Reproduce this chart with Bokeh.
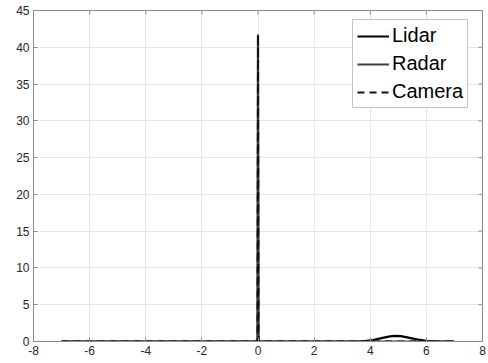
from bokeh.plotting import figure
from bokeh.models import Range1d, FixedTicker, Legend, LegendItem
from bokeh.embed import file_html
from bokeh.resources import INLINE

# Data
lidar_x = [-7.0, -0.015, 0.0, 0.015, 3.5, 3.8, 4.1, 4.4, 4.7, 4.9, 5.1, 5.4, 5.7, 6.0, 6.3, 6.6, 7.0]
lidar_y = [0.0, 0.0, 41.7, 0.0, 0.0, 0.05, 0.2, 0.45, 0.7, 0.77, 0.72, 0.5, 0.25, 0.08, 0.01, 0.0, 0.0]
radar_x = [-7.0, -0.015, 0.0, 0.015, 7.0]
radar_y = [0.0, 0.0, 41.7, 0.0, 0.0]
camera_x = [-7.0, -0.015, 0.0, 0.015, 7.0]
camera_y = [0.0, 0.0, 41.7, 0.0, 0.0]
x_ticks = [-8, -6, -4, -2, 0, 2, 4, 6, 8]
y_ticks = [0, 5, 10, 15, 20, 25, 30, 35, 40, 45]
series_names = ["Lidar", "Radar", "Camera"]

FONT = "Liberation Sans"
AX = "#8c8c8c"
TXT = "#262626"
X0, X1, Y0, Y1 = -8, 8, 0, 45
W, H = 488, 363
BL, BR, BT, BB = 33, 6, 10, 22

p = figure(width=W, height=H, output_backend="svg", toolbar_location=None,
           x_range=Range1d(X0, X1), y_range=Range1d(Y0, Y1),
           min_border_left=BL, min_border_right=BR, min_border_top=BT, min_border_bottom=BB)
p.outline_line_color = AX
p.background_fill_color = "white"
p.border_fill_color = "white"

p.xgrid.ticker = FixedTicker(ticks=x_ticks)
p.ygrid.ticker = FixedTicker(ticks=y_ticks)
p.xgrid.grid_line_color = "#e6e6e6"
p.ygrid.grid_line_color = "#e6e6e6"

# inward ticks on the top and right edges (4 px long)
dx = 4 * (X1 - X0) / (W - BL - BR)
dy = 4 * (Y1 - Y0) / (H - BT - BB)
p.segment(x0=x_ticks, y0=[Y1] * len(x_ticks), x1=x_ticks, y1=[Y1 - dy] * len(x_ticks),
          line_color=AX, line_width=1)
p.segment(x0=[X1] * len(y_ticks), y0=y_ticks, x1=[X1 - dx] * len(y_ticks), y1=y_ticks,
          line_color=AX, line_width=1)

r1 = p.line(lidar_x, lidar_y, line_color="black", line_width=2.2)
r2 = p.line(radar_x, radar_y, line_color="#404040", line_width=1.8)
r3 = p.line(camera_x, camera_y, line_color="#111111", line_width=2.0, line_dash="7 5")

for ax, ticks in ((p.xaxis[0], x_ticks), (p.yaxis[0], y_ticks)):
    ax.ticker = FixedTicker(ticks=ticks)
    ax.major_label_overrides = {t: str(t) for t in ticks}
    ax.major_tick_in = 4
    ax.major_tick_out = 0
    ax.minor_tick_in = 0
    ax.minor_tick_out = 0
    ax.axis_line_color = AX
    ax.major_tick_line_color = AX
    ax.major_label_text_font = FONT
    ax.major_label_text_font_size = "12px"
    ax.major_label_text_color = TXT
    ax.major_label_standoff = 4

legend = Legend(items=[LegendItem(label=series_names[0], renderers=[r1]),
                       LegendItem(label=series_names[1], renderers=[r2]),
                       LegendItem(label=series_names[2], renderers=[r3])],
                location=(319, 233))
legend.label_text_font = FONT
legend.label_text_font_size = "20px"
legend.label_text_color = "black"
legend.glyph_width = 32
legend.label_standoff = 3
legend.label_height = 22
legend.glyph_height = 22
legend.spacing = 5
legend.padding = 4
legend.margin = 0
legend.border_line_color = AX
legend.background_fill_color = "white"
legend.background_fill_alpha = 1
p.add_layout(legend, "center")

open("out.html", "w").write(file_html(p, INLINE))
